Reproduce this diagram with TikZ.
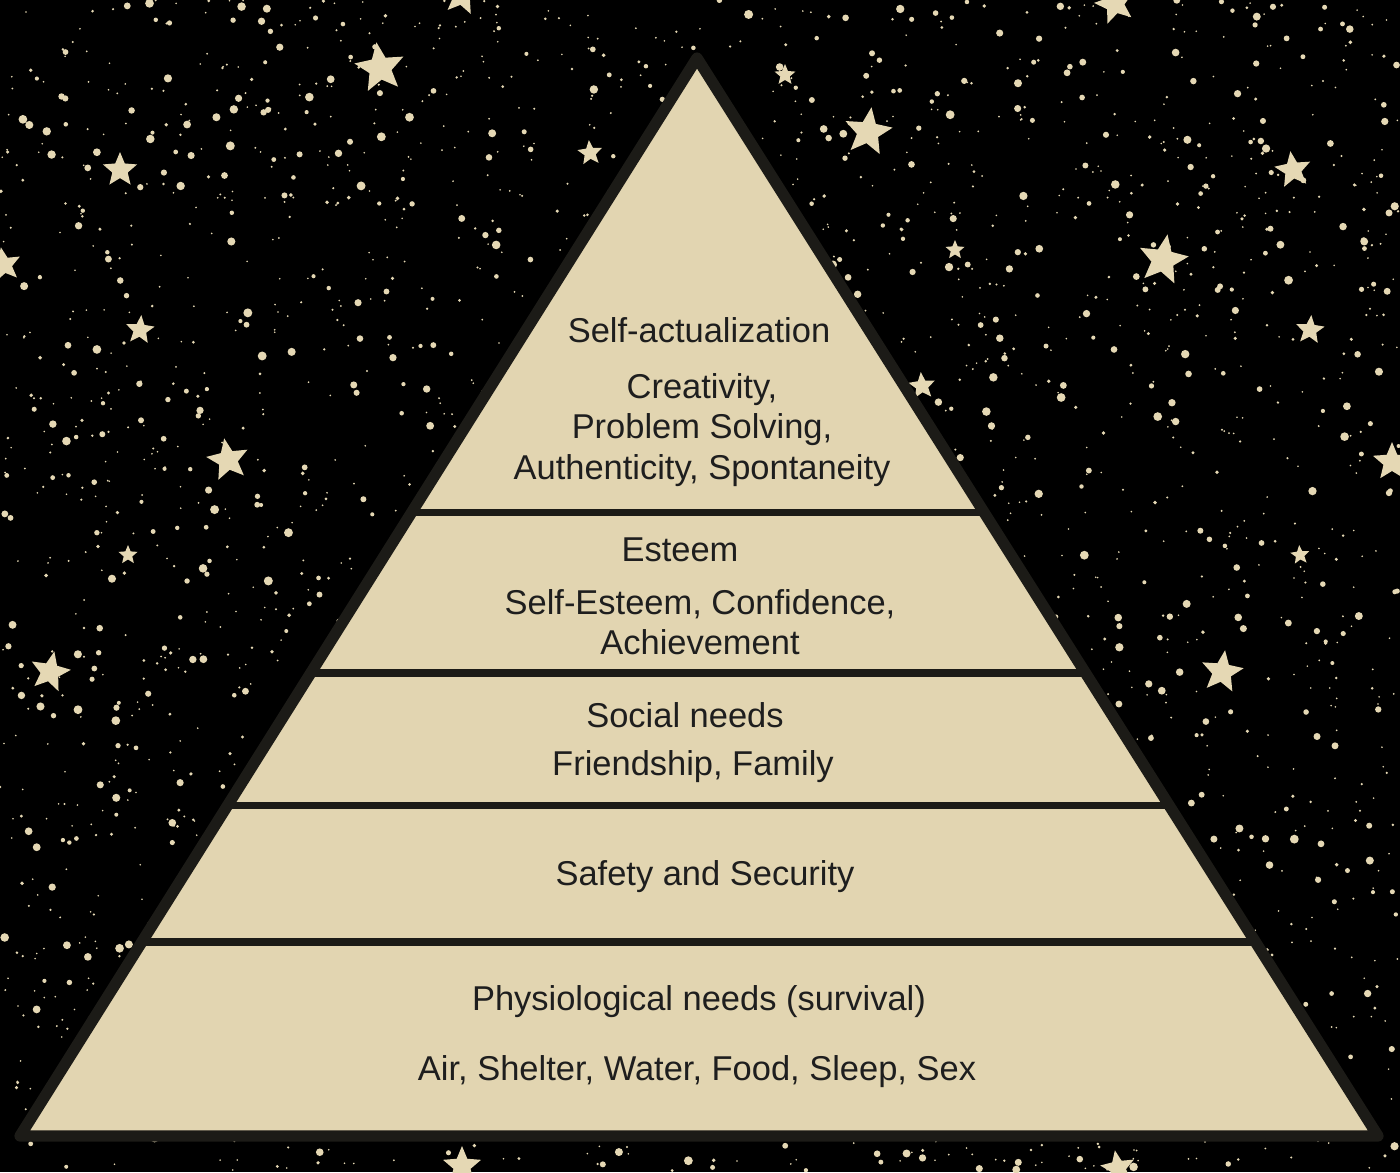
\documentclass[tikz,border=0pt]{standalone}
\usepackage{fontspec}
\setmainfont{Liberation Sans}
\usetikzlibrary{calc}
\definecolor{sand}{HTML}{E2D5B1}
\definecolor{starlight}{HTML}{E5D8B4}
\definecolor{edge}{HTML}{1C1B17}
\definecolor{ink}{HTML}{1E1E1E}
\tikzset{
    level/.style={text=ink, font=\fontsize{9.8}{11.4}\selectfont, align=center},
    divider/.style={draw=edge, line width=2pt},
}

\begin{document}
\begin{tikzpicture}[x=0.01cm, y=-0.01cm]
    \useasboundingbox (0, 0) rectangle (1400, 1172);
    \begin{scope}
        \clip (0, 0) rectangle (1400, 1172);
        \fill[black] (0, 0) rectangle (1400, 1172);
        \pgfmathsetseed{4242}
        \foreach \i in {1,...,3000} {
            \pgfmathsetmacro{\px}{rnd*1400}
            \pgfmathsetmacro{\py}{rnd*1172}
            \pgfmathsetmacro{\pr}{0.9 + 3.6*rnd^4}
            \fill[starlight] (\px, \py) circle[radius=\pr];
        }
        \foreach \sx/\sy/\sr/\sa in {380/68/26/8, 462/-4/20/-10, 785/75/11/0, 868/132/25/-8,
                                     590/153/13/5, 120/170/18/0, 4/265/18/10, 140/330/15/-5,
                                     228/460/22/10, 128/555/10/0, 50/672/21/-12, 922/386/14/5,
                                     955/250/10/0, 1163/260/26/-10, 1115/4/21/15, 1293/170/19/8,
                                     1310/330/15/-5, 1392/462/20/0, 1300/555/10/5, 1222/672/22/-8,
                                     462/1166/20/0, 1118/1168/18/10} {
            \begin{scope}[shift={(\sx, \sy)}, rotate={180 + \sa}, scale={\sr}]
                \fill[starlight] (90:1) -- (126:0.45) -- (162:1) -- (198:0.45) -- (234:1)
                    -- (270:0.45) -- (306:1) -- (342:0.45) -- (18:1) -- (54:0.45) -- cycle;
            \end{scope}
        }
    \end{scope}
    \coordinate (apex) at (697, 58);
    \coordinate (left) at (20, 1136);
    \coordinate (right) at (1378, 1136);
    \filldraw[fill=sand, draw=edge, line width=3.2pt, line join=round] (apex) -- (left) -- (right) -- cycle;
    \foreach \t in {0.4212, 0.5705, 0.6930, 0.8200} {
        \draw[divider] ($(apex)!\t!(left)$) -- ($(apex)!\t!(right)$);
    }
    \node[level] (selfact) at (699, 330) {Self-actualization};
    \node[level] (growth) at (702, 430) {Creativity,\\Problem Solving,\\Authenticity, Spontaneity};
    \node[level] (esteem) at (680, 550) {Esteem};
    \node[level] (worth) at (700, 622) {Self-Esteem, Confidence,\\Achievement};
    \node[level] (social) at (685, 715) {Social needs};
    \node[level] (bonds) at (693, 767) {Friendship, Family};
    \node[level] (safety) at (705, 877) {Safety and Security};
    \node[level] (physio) at (699, 1002) {Physiological needs (survival)};
    \node[level] (basics) at (697, 1072) {Air, Shelter, Water, Food, Sleep, Sex};
\end{tikzpicture}
\end{document}
